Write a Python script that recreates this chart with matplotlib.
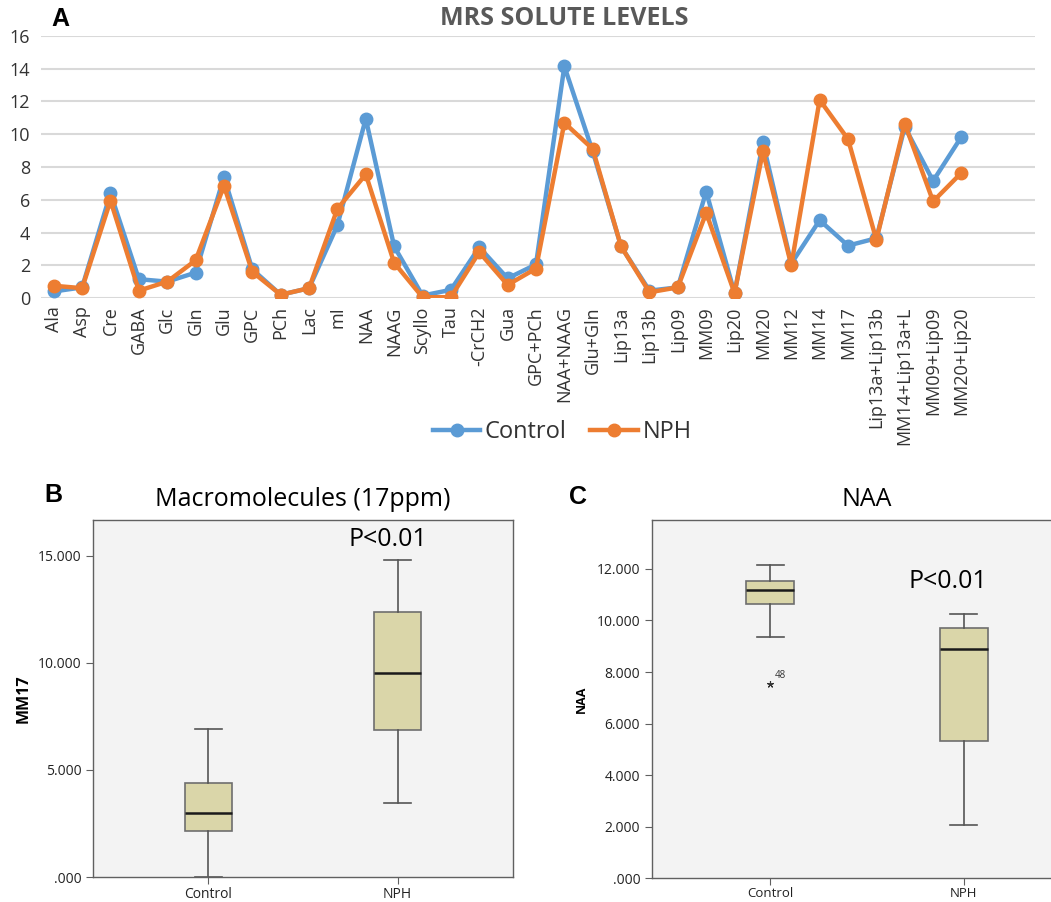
import matplotlib
matplotlib.use("Agg")
import matplotlib.pyplot as plt

plt.rcParams['font.family'] = ['Open Sans', 'DejaVu Sans']

# ---------------- Data ----------------
categories = ["Ala", "Asp", "Cre", "GABA", "Glc", "Gln", "Glu", "GPC", "PCh", "Lac",
              "mI", "NAA", "NAAG", "Scyllo", "Tau", "-CrCH2", "Gua", "GPC+PCh",
              "NAA+NAAG", "Glu+Gln", "Lip13a", "Lip13b", "Lip09", "MM09", "Lip20",
              "MM20", "MM12", "MM14", "MM17", "Lip13a+Lip13b", "MM14+Lip13a+L",
              "MM09+Lip09", "MM20+Lip20"]
control = [0.4, 0.65, 6.4, 1.15, 1.0, 1.55, 7.4, 1.75, 0.2, 0.6,
           4.45, 10.95, 3.15, 0.15, 0.5, 3.1, 1.2, 2.05,
           14.15, 8.95, 3.15, 0.45, 0.65, 6.5, 0.3,
           9.5, 2.1, 4.75, 3.2, 3.65, 10.45, 7.15, 9.85]
nph = [0.75, 0.6, 5.95, 0.45, 1.0, 2.3, 6.85, 1.6, 0.2, 0.6,
       5.45, 7.55, 2.15, 0.05, 0.05, 2.8, 0.8, 1.8,
       10.7, 9.1, 3.15, 0.35, 0.65, 5.2, 0.3,
       8.95, 2.0, 12.1, 9.7, 3.55, 10.65, 5.9, 7.65]
yticks_top = [0, 2, 4, 6, 8, 10, 12, 14, 16]

groups = ["Control", "NPH"]
# MM17 box stats: whislo, q1, median, q3, whishi
mm17_whislo = [0.0, 3.45]
mm17_q1 = [2.15, 6.87]
mm17_med = [2.97, 9.55]
mm17_q3 = [4.38, 12.37]
mm17_whishi = [6.9, 14.8]
mm17_ticks = [0, 5, 10, 15]
mm17_ticklabels = [".000", "5.000", "10.000", "15.000"]

naa_whislo = [9.35, 2.07]
naa_q1 = [10.62, 5.32]
naa_med = [11.17, 8.91]
naa_q3 = [11.52, 9.69]
naa_whishi = [12.13, 10.26]
naa_outlier = [[7.55], []]
naa_outlier_label = "48"
naa_ticks = [0, 2, 4, 6, 8, 10, 12]
naa_ticklabels = [".000", "2.000", "4.000", "6.000", "8.000", "10.000", "12.000"]

BLUE = "#5B9BD5"
ORANGE = "#ED7D31"
BOXFILL = "#DAD6A9"
AXBG = "#F3F3F3"

fig = plt.figure(figsize=(10.51, 9.02), dpi=100)

# ---------------- Panel A ----------------
axA = fig.add_axes([0.039, 0.6696, 0.946, 0.2905])
x = list(range(len(categories)))
axA.plot(x, control, color=BLUE, lw=3.2, marker='o', ms=9, label="Control",
         solid_joinstyle='round', zorder=3)
axA.plot(x, nph, color=ORANGE, lw=3.2, marker='o', ms=9, label="NPH",
         solid_joinstyle='round', zorder=4)
axA.set_xlim(-0.45, 34.6)
axA.set_ylim(0, 16)
axA.set_yticks(yticks_top)
axA.set_xticks(x)
axA.set_xticklabels(categories, rotation=90, fontsize=13, color="#333333")
axA.tick_params(axis='y', labelsize=13, labelcolor="#333333", length=0, pad=8)
axA.tick_params(axis='x', length=0, pad=6)
axA.grid(axis='y', color="#D9D9D9", lw=1.5)
axA.set_axisbelow(True)
for s in axA.spines.values():
    s.set_visible(False)
fig.text(0.537, 0.980, "MRS SOLUTE LEVELS", ha='center', va='center',
         fontsize=18, fontweight='bold', color="#595959")
fig.text(0.057, 0.979, "A", ha='center', va='center', fontsize=18,
         fontweight='bold', family='Liberation Sans')
leg = fig.legend(loc='center', bbox_to_anchor=(0.535, 0.521), ncol=2, frameon=False,
                 fontsize=17, handlelength=2.0, columnspacing=1.0, handletextpad=0.2)
for t in leg.get_texts():
    t.set_color("#333333")


def make_stats(lo, q1, med, q3, hi, fl=None):
    out = []
    for i in range(len(lo)):
        out.append(dict(whislo=lo[i], q1=q1[i], med=med[i], q3=q3[i], whishi=hi[i],
                        fliers=(fl[i] if fl else [])))
    return out


def style_box_axes(ax):
    ax.set_facecolor(AXBG)
    for s in ['top', 'right', 'left', 'bottom']:
        ax.spines[s].set_color("#606060")
        ax.spines[s].set_linewidth(1.0)
    ax.tick_params(axis='both', direction='out', length=5, color="#606060",
                   labelsize=10, labelcolor="#222222")
    ax.tick_params(axis='x', pad=2)


boxprops = dict(facecolor=BOXFILL, edgecolor="#6E6E6E", linewidth=1.2)
medianprops = dict(color="#1a1a1a", linewidth=1.8)
whiskerprops = dict(color="#555555", linewidth=1.2)
capprops = dict(color="#555555", linewidth=1.2)

# ---------------- Panel B ----------------
axB = fig.add_axes([0.0885, 0.0277, 0.3996, 0.3958])
style_box_axes(axB)
axB.bxp(make_stats(mm17_whislo, mm17_q1, mm17_med, mm17_q3, mm17_whishi),
        positions=[1, 2], widths=0.25, capwidths=0.14, patch_artist=True,
        showfliers=False, boxprops=boxprops, medianprops=medianprops,
        whiskerprops=whiskerprops, capprops=capprops)
axB.set_xlim(0.39, 2.61)
axB.set_ylim(0, 16.68)
axB.set_yticks(mm17_ticks)
axB.set_yticklabels(mm17_ticklabels)
axB.set_xticks([1, 2])
axB.set_xticklabels(groups)
axB.set_ylabel("MM17", fontsize=11.5, fontweight='bold', labelpad=4)
axB.set_title("Macromolecules (17ppm)", fontsize=18, pad=10)
axB.text(1.95, 15.75, "P<0.01", ha='center', va='center', fontsize=18)
fig.text(0.051, 0.451, "B", ha='center', va='center', fontsize=18,
         fontweight='bold', family='Liberation Sans')

# ---------------- Panel C ----------------
axC = fig.add_axes([0.6204, 0.0262, 0.409, 0.3975])
style_box_axes(axC)
axC.bxp(make_stats(naa_whislo, naa_q1, naa_med, naa_q3, naa_whishi, naa_outlier),
        positions=[1, 2], widths=0.245, capwidths=0.14, patch_artist=True,
        showfliers=True, boxprops=boxprops, medianprops=medianprops,
        whiskerprops=whiskerprops, capprops=capprops,
        flierprops=dict(marker=(5, 2, 0), markersize=5, markeredgecolor="#333333",
                        markeredgewidth=0.8, linestyle='none'))
axC.annotate(naa_outlier_label, (1, naa_outlier[0][0]), xytext=(3, 4),
             textcoords='offset points', fontsize=7, color="#333333")
axC.set_xlim(0.39, 2.61)
axC.set_ylim(0, 13.9)
axC.set_yticks(naa_ticks)
axC.set_yticklabels(naa_ticklabels)
axC.set_xticks([1, 2])
axC.set_xticklabels(groups)
axC.tick_params(axis='x', pad=1, labelsize=9.5)
axC.set_ylabel("NAA", fontsize=9, fontweight='bold', labelpad=6)
axC.set_title("NAA", fontsize=18, pad=10)
axC.text(1.92, 11.5, "P<0.01", ha='center', va='center', fontsize=18)
fig.text(0.550, 0.449, "C", ha='center', va='center', fontsize=18,
         fontweight='bold', family='Liberation Sans')

fig.savefig("out.png", dpi=100)
